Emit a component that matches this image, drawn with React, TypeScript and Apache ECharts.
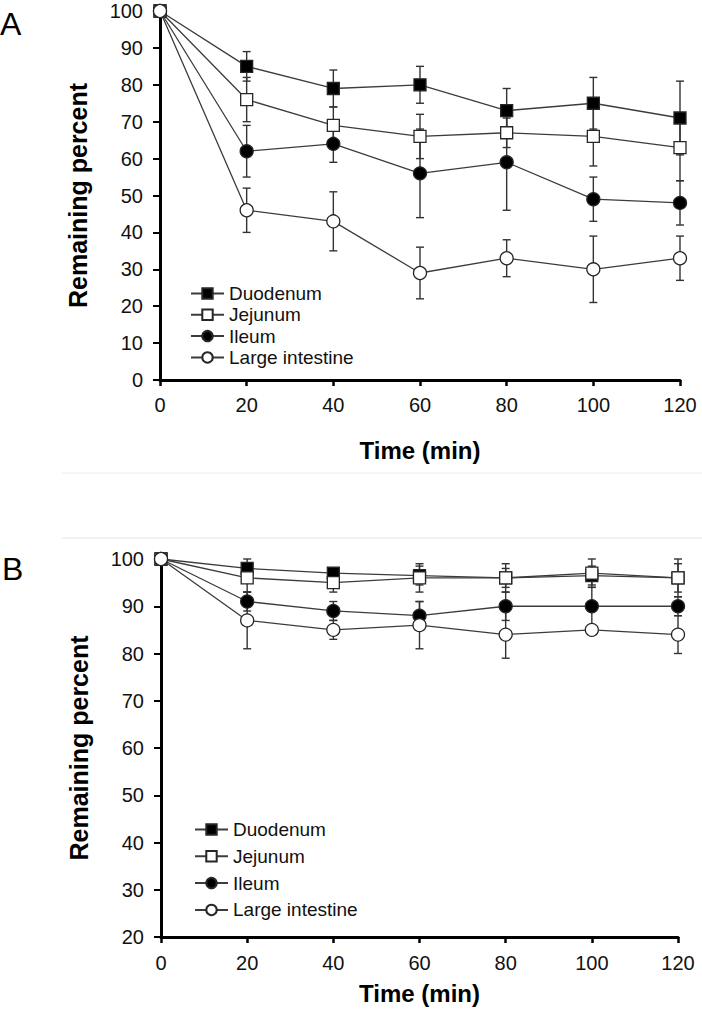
import React, { useEffect, useRef } from 'react';
import * as echarts from 'echarts';

const times = [0, 20, 40, 60, 80, 100, 120];
const seriesNames = ['Duodenum', 'Jejunum', 'Ileum', 'Large intestine'];

// Panel A (means and SD)
const aDuodenum = [100, 85, 79, 80, 73, 75, 71];
const aDuodenumSd = [0, 4, 5, 5, 6, 7, 10];
const aJejunum = [100, 76, 69, 66, 67, 66, 63];
const aJejunumSd = [0, 6, 5, 6, 4, 8, 9];
const aIleum = [100, 62, 64, 56, 59, 49, 48];
const aIleumSd = [0, 7, 5, 12, 13, 6, 6];
const aLarge = [100, 46, 43, 29, 33, 30, 33];
const aLargeSd = [0, 6, 8, 7, 5, 9, 6];

// Panel B (means and SD)
const bDuodenum = [100, 98, 97, 96.5, 96, 96.5, 96];
const bDuodenumSd = [0, 2, 1, 2, 2, 2, 3];
const bJejunum = [100, 96, 95, 96, 96, 97, 96];
const bJejunumSd = [0, 3, 2, 3, 3, 3, 4];
const bIleum = [100, 91, 89, 88, 90, 90, 90];
const bIleumSd = [0, 2, 2, 3, 3, 4, 2];
const bLarge = [100, 87, 85, 86, 84, 85, 84];
const bLargeSd = [0, 6, 2, 5, 5, 1, 4];

const symbols = ['rect', 'rect', 'circle', 'circle'];
const fills = ['#000000', '#ffffff', '#000000', '#ffffff'];
const sizes = [12, 12, 13, 13];

const FONT = 'Arial, "Liberation Sans", sans-serif';
const LINE = '#3c3c3c';

function buildPanel(p: number, means: number[][], sds: number[][]) {
  const out: any[] = [];
  means.forEach((m, k) => {
    const sd = sds[k];
    out.push({
      type: 'custom',
      xAxisIndex: p,
      yAxisIndex: p,
      silent: true,
      z: 2,
      encode: { x: 0, y: [1, 2] },
      data: times
        .map((t, i) => [t, m[i] - sd[i], m[i] + sd[i], sd[i]])
        .filter((d) => d[3] > 0),
      renderItem: (params: any, api: any) => {
        const x = api.value(0);
        const lo = api.value(1);
        const hi = api.value(2);
        const a = api.coord([x, hi]);
        const b = api.coord([x, lo]);
        const w = 4;
        const style = { stroke: '#333', lineWidth: 1.4 };
        return {
          type: 'group',
          children: [
            { type: 'line', shape: { x1: a[0], y1: a[1], x2: b[0], y2: b[1] }, style },
            { type: 'line', shape: { x1: a[0] - w, y1: a[1], x2: a[0] + w, y2: a[1] }, style },
            { type: 'line', shape: { x1: b[0] - w, y1: b[1], x2: b[0] + w, y2: b[1] }, style },
          ],
        };
      },
    });
  });
  means.forEach((m, k) => {
    out.push({
      type: 'line',
      name: seriesNames[k],
      xAxisIndex: p,
      yAxisIndex: p,
      data: times.map((t, i) => [t, m[i]]),
      symbol: symbols[k],
      symbolSize: sizes[k],
      showSymbol: true,
      z: 3 + k,
      lineStyle: { color: LINE, width: 1.3 },
      itemStyle: { color: fills[k], borderColor: '#262626', borderWidth: 1.3 },
    });
  });
  return out;
}

const xAxisBase = (idx: number, gap: number, margin: number) => ({
  type: 'value',
  gridIndex: idx,
  min: 0,
  max: 120,
  interval: 20,
  name: 'Time (min)',
  nameLocation: 'middle',
  nameGap: gap,
  nameTextStyle: { fontFamily: FONT, fontSize: 24, fontWeight: 'bold', color: '#000' },
  axisLine: { show: true, lineStyle: { color: '#000', width: 3 } },
  axisTick: { show: true, length: 6, lineStyle: { color: '#000', width: 2.5 } },
  axisLabel: { fontFamily: FONT, fontSize: 20, color: '#111', margin },
  splitLine: { show: false },
});

const yAxisBase = (idx: number, min: number) => ({
  type: 'value',
  gridIndex: idx,
  min,
  max: 100,
  interval: 10,
  name: 'Remaining percent',
  nameLocation: 'middle',
  nameGap: 70,
  nameRotate: 90,
  nameTextStyle: { fontFamily: FONT, fontSize: 25, fontWeight: 'bold', color: '#000' },
  axisLine: { show: true, lineStyle: { color: '#000', width: 3 } },
  axisTick: { show: true, length: 7, lineStyle: { color: '#000', width: 2 } },
  axisLabel: { fontFamily: FONT, fontSize: 20, color: '#111', margin: 17 },
  splitLine: { show: false },
});

export default function App() {
  const ref = useRef<HTMLDivElement>(null);
  useEffect(() => {
    document.body.style.margin = '0';
    if (!ref.current) return;
    const chart = echarts.init(ref.current, undefined, { renderer: 'svg' });
    const option: any = {
      animation: false,
      backgroundColor: '#ffffff',
      grid: [
        { left: 160, top: 11, width: 520, height: 369 },
        { left: 161, top: 559, width: 517, height: 378 },
      ],
      xAxis: [xAxisBase(0, 58, 15), xAxisBase(1, 44, 16)],
      yAxis: [yAxisBase(0, 0), yAxisBase(1, 20)],
      legend: [
        {
          data: seriesNames,
          orient: 'vertical',
          left: 185,
          top: 279,
          itemWidth: 33,
          itemHeight: 13,
          itemGap: 2.3,
          selectedMode: false,
          textStyle: { fontFamily: FONT, fontSize: 19, color: '#111' },
        },
        {
          data: seriesNames,
          orient: 'vertical',
          left: 189,
          top: 815,
          itemWidth: 33,
          itemHeight: 13,
          itemGap: 7.8,
          selectedMode: false,
          textStyle: { fontFamily: FONT, fontSize: 19, color: '#111' },
        },
      ],
      graphic: [
        { type: 'line', shape: { x1: 62, y1: 473, x2: 702, y2: 473 }, style: { stroke: '#ececec', lineWidth: 1 } },
        { type: 'line', shape: { x1: 62, y1: 538, x2: 702, y2: 538 }, style: { stroke: '#e6e6e6', lineWidth: 1 } },
        { type: 'text', left: 0, top: 8, style: { text: 'A', font: `32px ${FONT}`, fill: '#000' } },
        { type: 'text', left: 2, top: 553, style: { text: 'B', font: `32px ${FONT}`, fill: '#000' } },
      ],
      series: [
        ...buildPanel(0, [aDuodenum, aJejunum, aIleum, aLarge], [aDuodenumSd, aJejunumSd, aIleumSd, aLargeSd]),
        ...buildPanel(1, [bDuodenum, bJejunum, bIleum, bLarge], [bDuodenumSd, bJejunumSd, bIleumSd, bLargeSd]),
      ],
    };
    chart.setOption(option);
    return () => chart.dispose();
  }, []);
  return <div ref={ref} style={{ width: 702, height: 1014 }} />;
}
